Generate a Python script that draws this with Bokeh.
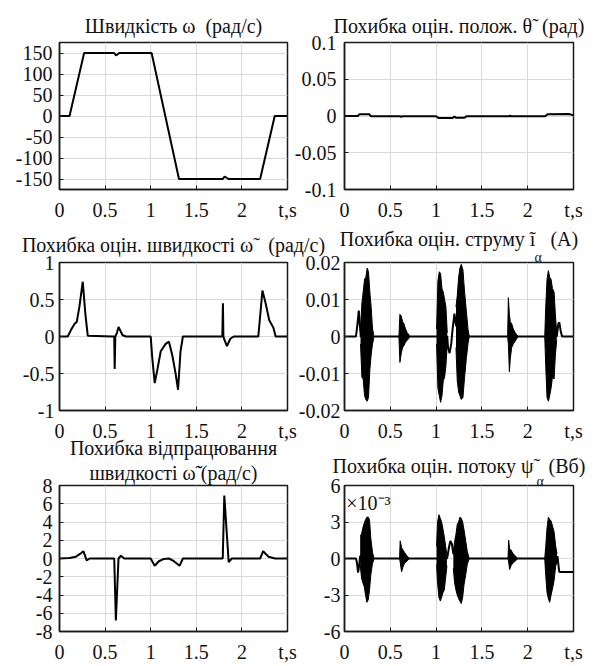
from bokeh.plotting import figure
from bokeh.layouts import column, row
from bokeh.models import FixedTicker, Label, Range1d, Title
from bokeh.embed import file_html
from bokeh.resources import INLINE

FONT = "Liberation Serif"
FS = "20px"
NB = "\u00a0"

# ---------------- data ----------------
T_TICKS = [0, 0.5, 1, 1.5, 2, 2.5]
T_LABELS = ["0", "0.5", "1", "1.5", "2", "t,s"]

# 1) speed
speed_t = [0, 0.11, 0.27, 0.60, 0.62, 0.655, 1.01, 1.31, 1.79, 1.81, 1.855, 2.20, 2.36, 2.5]
speed_v = [0, 0, 150, 150, 144, 150, 150, -150, -150, -144, -150, -150, 0, 0]
speed_ticks = [-150, -100, -50, 0, 50, 100, 150]
speed_labels = ["-150", "-100", "-50", "0", "50", "100", "150"]

# 2) position estimation error
pos_t = [0, 0.145, 0.165, 0.27, 0.29, 0.61, 0.62, 0.63, 1.0, 1.03, 1.18, 1.2, 1.22, 1.31, 1.33, 1.80, 1.81, 1.82, 2.19, 2.22, 2.45, 2.5]
pos_v = [0, 0, 0.0025, 0.0025, -0.0004, -0.0004, -0.0012, -0.0004, -0.0004, -0.0028, -0.0028, -0.0008, -0.0025, -0.0025, -0.0005, -0.0005, 0.0005, -0.0005, -0.0003, 0.0025, 0.0028, 0.0008]
pos_ticks = [-0.1, -0.05, 0, 0.05, 0.1]
pos_labels = ["-0.1", "-0.05", "0", "0.05", "0.1"]

# 3) speed estimation error
west_t = [0, 0.09, 0.127, 0.164, 0.19, 0.218, 0.255, 0.284, 0.31, 0.58, 0.6, 0.605, 0.612, 0.63, 0.647, 0.69, 0.727,
          1.0, 1.018, 1.044, 1.073, 1.11, 1.164, 1.2, 1.236, 1.273, 1.30, 1.327, 1.353,
          1.785, 1.792, 1.797, 1.81, 1.836, 1.873, 1.91, 2.18, 2.225, 2.26, 2.30, 2.345, 2.37, 2.5]
west_v = [0, 0, 0.09, 0.17, 0.2, 0.4, 0.74, 0.3, 0.01, 0, 0, -0.44, 0, 0.05, 0.13, 0.02, 0,
          0, -0.3, -0.63, -0.45, -0.2, -0.1, -0.07, -0.25, -0.5, -0.72, -0.2, 0,
          0, 0.45, 0, -0.05, -0.13, -0.03, 0, 0, 0.62, 0.45, 0.22, 0.12, 0, 0]
west_ticks = [-1, -0.5, 0, 0.5, 1]
west_labels = ["-1", "-0.5", "0", "0.5", "1"]

# 4) current estimation error (base curve + oscillation burst envelopes)
cur_t = [0, 0.125, 0.14, 0.156, 0.168, 0.178, 1.122, 1.13, 1.147, 1.165, 1.18, 1.2, 1.217, 1.362,
         2.317, 2.322, 2.335, 2.345, 2.36, 2.375, 2.5]
cur_v = [0, 0, 0.003, 0.007, 0.003, 0, 0, -0.003, -0.0045, -0.002, 0.002, 0.0062, 0.003, 0,
         0, 0.001, 0.0035, 0.0038, 0.0015, 0, 0]
cur_burst_t = [
    [0.175, 0.19, 0.204, 0.219, 0.233, 0.248, 0.262, 0.277, 0.291, 0.306, 0.32],
    [0.594, 0.605, 0.62, 0.634, 0.648, 0.667, 0.685, 0.71],
    [1.005, 1.02, 1.035, 1.049, 1.064, 1.078, 1.093, 1.107, 1.122],
    [1.217, 1.231, 1.246, 1.26, 1.275, 1.293, 1.311, 1.33, 1.348, 1.362],
    [1.781, 1.789, 1.80, 1.81, 1.825, 1.843, 1.865, 1.894],
    [2.186, 2.197, 2.211, 2.226, 2.24, 2.255, 2.27, 2.288, 2.302, 2.317],
]
cur_burst_hi = [
    [0.002, 0.009, 0.012, 0.0155, 0.016, 0.0185, 0.0175, 0.012, 0.008, 0.002, 0.0005],
    [0, 0.006, 0.0055, 0.004, 0.0035, 0.002, 0.001, 0.0003],
    [0.002, 0.015, 0.0175, 0.017, 0.013, 0.012, 0.01, 0.008, 0.001],
    [0.008, 0.011, 0.016, 0.0185, 0.0195, 0.018, 0.012, 0.007, 0.002, 0],
    [0, 0.0105, 0.006, 0.004, 0.0035, 0.002, 0.001, 0],
    [0, 0.008, 0.0155, 0.0178, 0.016, 0.0155, 0.013, 0.012, 0.006, 0.001],
]
cur_burst_lo = [
    [-0.002, -0.011, -0.0115, -0.016, -0.017, -0.0175, -0.0165, -0.009, -0.005, -0.002, -0.0005],
    [0, -0.007, -0.0045, -0.003, -0.0025, -0.0015, -0.001, -0.0003],
    [-0.002, -0.014, -0.016, -0.0178, -0.016, -0.012, -0.011, -0.008, -0.002],
    [-0.003, -0.012, -0.015, -0.016, -0.017, -0.0165, -0.011, -0.006, -0.002, 0],
    [0, -0.002, -0.0095, -0.006, -0.003, -0.002, -0.0012, 0],
    [0, -0.008, -0.0165, -0.0175, -0.016, -0.014, -0.011, -0.0115, -0.005, -0.001],
]
cur_ticks = [-0.02, -0.01, 0, 0.01, 0.02]
cur_labels = ["-0.02", "-0.01", "0", "0.01", "0.02"]

# 5) speed tracking error
trk_t = [0, 0.11, 0.18, 0.225, 0.262, 0.298, 0.33, 0.6, 0.618, 0.647, 0.673, 0.71,
         1.0, 1.044, 1.09, 1.145, 1.2, 1.255, 1.316, 1.353, 1.79, 1.807, 1.855, 1.89,
         2.2, 2.233, 2.29, 2.365, 2.5]
trk_v = [0, 0.05, 0.2, 0.5, 0.8, -0.2, 0, 0, -6.8, 0, 0.3, 0,
         0, -0.8, -0.3, -0.05, 0, -0.3, -0.8, 0, 0, 6.9, -0.4, 0,
         0, 0.8, 0.2, 0, 0]
trk_ticks = [-8, -6, -4, -2, 0, 2, 4, 6, 8]
trk_labels = ["-8", "-6", "-4", "-2", "0", "2", "4", "6", "8"]

# 6) flux estimation error (x 1e-3)
flux_t = [0, 0.125, 0.135, 0.148, 0.16, 0.171, 0.32, 1.118, 1.125, 1.14, 1.156, 1.172, 1.188, 1.36,
          2.32, 2.325, 2.335, 2.345, 2.5]
flux_v = [0, 0, -0.3, -1.15, -0.6, 0.2, 0, 0, 0.2, 0.9, 1.45, 1.2, 0.4, 0,
          0, 0.2, -0.5, -1.1, -1.1]
flux_burst_t = [
    [0.171, 0.186, 0.2, 0.215, 0.23, 0.244, 0.259, 0.273, 0.288, 0.306, 0.32],
    [0.601, 0.608, 0.623, 0.638, 0.656, 0.678, 0.703],
    [1.005, 1.016, 1.031, 1.046, 1.06, 1.075, 1.089, 1.104, 1.118],
    [1.188, 1.202, 1.217, 1.231, 1.246, 1.26, 1.275, 1.29, 1.304, 1.322, 1.34, 1.359],
    [1.785, 1.792, 1.803, 1.818, 1.836, 1.858, 1.887],
    [2.186, 2.197, 2.211, 2.226, 2.24, 2.255, 2.273, 2.288, 2.306, 2.32],
]
flux_burst_hi = [
    [1.9, 2.0, 2.5, 2.9, 3.2, 3.4, 3.4, 3.2, 1.6, 0.5, 0.1],
    [0, 1.45, 0.9, 0.7, 0.5, 0.25, 0.05],
    [1.0, 3.0, 3.6, 3.3, 3.0, 2.4, 1.8, 1.0, 0.3],
    [0.5, 1.4, 2.0, 2.8, 3.0, 3.4, 3.3, 3.0, 2.4, 1.5, 0.6, 0.05],
    [0, 1.5, 0.8, 0.7, 0.45, 0.25, 0.05],
    [0, 1.0, 2.5, 3.4, 3.2, 3.1, 2.6, 2.2, 1.0, 0.4],
]
flux_burst_lo = [
    [-0.5, -1.6, -2.0, -2.3, -3.0, -3.6, -3.4, -2.6, -1.3, -0.4, -0.1],
    [0, -0.3, -1.1, -0.7, -0.4, -0.25, -0.05],
    [-0.5, -2.0, -3.2, -3.5, -3.2, -2.8, -2.6, -1.6, -0.6],
    [-0.8, -2.0, -2.6, -3.0, -3.3, -3.5, -3.7, -3.2, -2.2, -1.4, -0.5, -0.05],
    [0, -0.3, -0.9, -0.6, -0.4, -0.25, -0.05],
    [0, -1.4, -2.8, -3.3, -3.6, -3.0, -2.4, -1.8, -0.6, -0.3],
]
flux_ticks = [-6, -3, 0, 3, 6]
flux_labels = ["-6", "-3", "0", "3", "6"]

TITLES = [
    "Швидкість ω" + NB * 2 + "(рад/с)",
    "Похибка оцін. полож. θ\u0303" + NB * 2 + "(рад)",
    "Похибка оцін. швидкості ω\u0303" + NB * 3 + "(рад/с)",
    "Похибка оцін. струму ĩ" + NB * 3 + "(А)",
    "Похибка відпрацювання",
    "швидкості ω\u0303\u0303 (рад/с)",
    "Похибка оцін. потоку ψ\u0303" + NB * 3 + "(Вб)",
]


# ---------------- helpers ----------------
def add_title(p, text, size=FS, align="center", offset=0, standoff=0):
    p.add_layout(Title(text=text, text_font=FONT, text_font_size=size, text_font_style="normal",
                       text_color="#111111", align=align, offset=offset, standoff=standoff), "above")


def make_fig(width, height, bl, br, bt, bb, yr, yticks, ylabels, lab_standoff):
    p = figure(width=width, height=height, x_range=Range1d(0, 2.5), y_range=Range1d(*yr),
               output_backend="svg", toolbar_location=None, title=None,
               min_border_left=bl, min_border_right=br, min_border_top=bt, min_border_bottom=bb)
    p.border_fill_color = None
    p.background_fill_color = "white"
    p.outline_line_color = "#1a1a1a"
    p.outline_line_width = 1.5
    for ax, ticks, labels in ((p.xaxis[0], T_TICKS, T_LABELS), (p.yaxis[0], yticks, ylabels)):
        ax.ticker = FixedTicker(ticks=ticks)
        ax.major_label_overrides = {k: v for k, v in zip(ticks, labels)}
        ax.major_label_text_font = FONT
        ax.major_label_text_font_size = FS
        ax.major_label_text_color = "#111111"
        ax.major_tick_in = 4
        ax.major_tick_out = 0
        ax.major_tick_line_color = "#1a1a1a"
        ax.minor_tick_line_color = None
        ax.axis_line_color = "#1a1a1a"
        ax.axis_line_width = 1.5
    p.xaxis.major_label_standoff = 9
    p.yaxis.major_label_standoff = lab_standoff
    p.grid.grid_line_color = "#d9d9d9"
    p.grid.grid_line_width = 1
    return p


LW, RW = 350, 345
B1, B2, B3 = 42, 45, 52
BB = 33
H1, H2, H3 = B1 + 148 + BB, B2 + 149 + BB, B3 + 147 + BB
OV2, OV3 = 6, 11   # vertical overlap of rows (transparent borders)

p1 = make_fig(LW, H1, 59, 63, B1, BB, (-175, 175), speed_ticks, speed_labels, 7)
add_title(p1, TITLES[0], standoff=12)
p1.line(speed_t, speed_v, line_color="black", line_width=2)

p2 = make_fig(RW, H1, 94, 22, B1, BB, (-0.1, 0.1), pos_ticks, pos_labels, 8)
add_title(p2, TITLES[1], standoff=12)
p2.line(pos_t, pos_v, line_color="black", line_width=2)

p3 = make_fig(LW, H2, 59, 63, B2, BB, (-1, 1), west_ticks, west_labels, 5)
add_title(p3, TITLES[2], standoff=14)
p3.line(west_t, west_v, line_color="black", line_width=2)

p4 = make_fig(RW, H2, 94, 22, B2, BB, (-0.02, 0.02), cur_ticks, cur_labels, 4)
add_title(p4, "α", size="14px", align="left", offset=190, standoff=-5)
add_title(p4, TITLES[3], standoff=1)
p4.line(cur_t, cur_v, line_color="black", line_width=2)
for bt_, bh, bl_ in zip(cur_burst_t, cur_burst_hi, cur_burst_lo):
    p4.varea(x=bt_, y1=bl_, y2=bh, fill_color="black")
    p4.line(bt_, bh, line_color="black", line_width=1)
    p4.line(bt_, bl_, line_color="black", line_width=1)

p5 = make_fig(LW, H3, 59, 63, B3, BB, (-8, 8), trk_ticks, trk_labels, 7)
add_title(p5, TITLES[5], standoff=3)
add_title(p5, TITLES[4], standoff=0)
p5.line(trk_t, trk_v, line_color="black", line_width=2)

p6 = make_fig(RW, H3, 94, 22, B3, BB, (-6, 6), flux_ticks, flux_labels, 4)
add_title(p6, "α", size="14px", align="left", offset=192, standoff=-7)
add_title(p6, TITLES[6], standoff=-2)
p6.line(flux_t, flux_v, line_color="black", line_width=2)
for bt_, bh, bl_ in zip(flux_burst_t, flux_burst_hi, flux_burst_lo):
    p6.varea(x=bt_, y1=bl_, y2=bh, fill_color="black")
    p6.line(bt_, bh, line_color="black", line_width=1)
    p6.line(bt_, bl_, line_color="black", line_width=1)
p6.add_layout(Label(x=0.02, y=4.6, text="×10⁻³", text_font=FONT, text_font_size=FS,
                    text_align="left", text_baseline="middle", text_color="#111111"))

p2.margin = (0, 0, 0, -100)
p3.margin = (-OV2, 0, 0, 0)
p4.margin = (-OV2, 0, 0, -100)
p5.margin = (-OV3, 0, 0, 0)
p6.margin = (-OV3, 0, 0, -100)

layout = column(row(p1, p2), row(p3, p4), row(p5, p6))

open("out.html", "w").write(file_html(layout, INLINE))
